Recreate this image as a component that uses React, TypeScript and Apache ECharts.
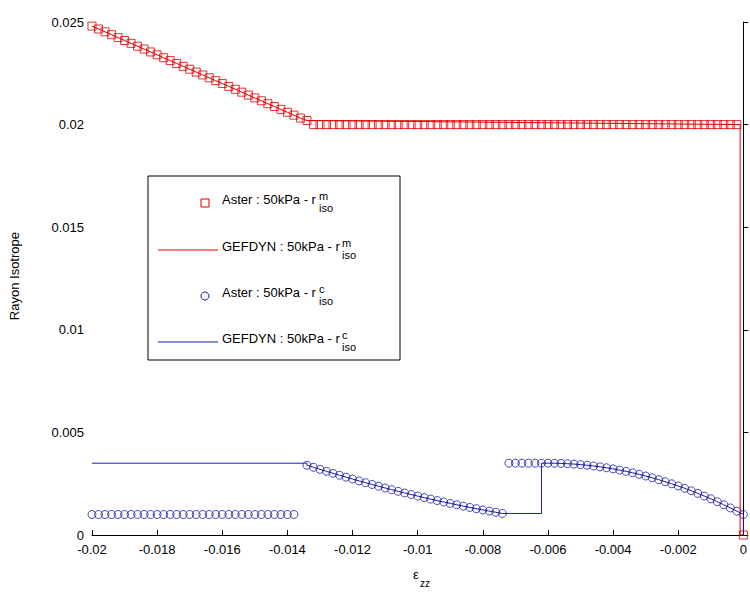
import { useEffect, useRef } from 'react';
import * as echarts from 'echarts';

// Aster r_iso^m (red squares)
const redSlopeX = [-0.02, -0.0198, -0.0196, -0.0194, -0.0192, -0.019, -0.0188, -0.0186, -0.0184, -0.0182, -0.018, -0.0178, -0.0176, -0.0174, -0.0172, -0.017, -0.0168, -0.0166, -0.0164, -0.0162, -0.016, -0.0158, -0.0156, -0.0154, -0.0152, -0.015, -0.0148, -0.0146, -0.0144, -0.0142, -0.014, -0.0138, -0.0136, -0.0134];
const redSlopeY = [0.0248, 0.02466, 0.02452, 0.02438, 0.02424, 0.0241, 0.02396, 0.02382, 0.02368, 0.02354, 0.0234, 0.02326, 0.02312, 0.02298, 0.02284, 0.0227, 0.02256, 0.02242, 0.02228, 0.02214, 0.022, 0.02186, 0.02172, 0.02158, 0.02144, 0.0213, 0.02116, 0.02102, 0.02088, 0.02074, 0.0206, 0.02046, 0.02032, 0.0202];
const redFlatX = [-0.0132, -0.013, -0.0128, -0.0126, -0.0124, -0.0122, -0.012, -0.0118, -0.0116, -0.0114, -0.0112, -0.011, -0.0108, -0.0106, -0.0104, -0.0102, -0.01, -0.0098, -0.0096, -0.0094, -0.0092, -0.009, -0.0088, -0.0086, -0.0084, -0.0082, -0.008, -0.0078, -0.0076, -0.0074, -0.0072, -0.007, -0.0068, -0.0066, -0.0064, -0.0062, -0.006, -0.0058, -0.0056, -0.0054, -0.0052, -0.005, -0.0048, -0.0046, -0.0044, -0.0042, -0.004, -0.0038, -0.0036, -0.0034, -0.0032, -0.003, -0.0028, -0.0026, -0.0024, -0.0022, -0.002, -0.0018, -0.0016, -0.0014, -0.0012, -0.001, -0.0008, -0.0006, -0.0004, -0.0002];
const redFlatValue = 0.02;
const redEnd: [number, number] = [0, 0];

// Aster r_iso^c (blue circles)
const blueFlatX = [-0.02, -0.0198, -0.0196, -0.0194, -0.0192, -0.019, -0.0188, -0.0186, -0.0184, -0.0182, -0.018, -0.0178, -0.0176, -0.0174, -0.0172, -0.017, -0.0168, -0.0166, -0.0164, -0.0162, -0.016, -0.0158, -0.0156, -0.0154, -0.0152, -0.015, -0.0148, -0.0146, -0.0144, -0.0142, -0.014, -0.0138];
const blueFlatValue = 0.001;
const blueDescX = [-0.0134, -0.0132, -0.013, -0.0128, -0.0126, -0.0124, -0.0122, -0.012, -0.0118, -0.0116, -0.0114, -0.0112, -0.011, -0.0108, -0.0106, -0.0104, -0.0102, -0.01, -0.0098, -0.0096, -0.0094, -0.0092, -0.009, -0.0088, -0.0086, -0.0084, -0.0082, -0.008, -0.0078, -0.0076, -0.0074];
const blueDescY = [0.0034, 0.003299, 0.0032, 0.003102, 0.003006, 0.002911, 0.002818, 0.002727, 0.002637, 0.002548, 0.002461, 0.002376, 0.002292, 0.00221, 0.002129, 0.00205, 0.001972, 0.001896, 0.001822, 0.001749, 0.001678, 0.001608, 0.00154, 0.001473, 0.001408, 0.001344, 0.001282, 0.001222, 0.001163, 0.001106, 0.00105];
const bluePlateauX = [-0.0072, -0.007, -0.0068, -0.0066, -0.0064, -0.0062];
const bluePlateauValue = 0.0035;
const blueArcX = [-0.006, -0.0058, -0.0056, -0.0054, -0.0052, -0.005, -0.0048, -0.0046, -0.0044, -0.0042, -0.004, -0.0038, -0.0036, -0.0034, -0.0032, -0.003, -0.0028, -0.0026, -0.0024, -0.0022, -0.002, -0.0018, -0.0016, -0.0014, -0.0012, -0.001, -0.0008, -0.0006, -0.0004, -0.0002, 0];
const blueArcY = [0.0035, 0.003497, 0.003489, 0.003475, 0.003456, 0.003431, 0.0034, 0.003364, 0.003322, 0.003275, 0.003222, 0.003164, 0.0031, 0.00303, 0.002955, 0.002875, 0.002788, 0.002697, 0.002599, 0.002496, 0.002388, 0.002274, 0.002155, 0.002029, 0.001899, 0.001763, 0.001621, 0.001473, 0.00132, 0.001162, 0.001];

// GEFDYN lines, key points
const redDropX = -0.0001;
const blueStartValue = 0.0035;
const blueJumpX = -0.0062;

const RED = '#e00000';
const BLUE = '#1c1ca8';
const FONT = '"Liberation Sans", Arial, sans-serif';

const zip = (xs: number[], ys: number[]) => xs.map((x, i) => [x, ys[i]]);

export default function App() {
    const chartRef = useRef<HTMLDivElement>(null);

    useEffect(() => {
        if (!chartRef.current) return;
        const chart = echarts.init(chartRef.current, null, { renderer: 'svg' });

        const redSquares = [
            ...zip(redSlopeX, redSlopeY),
            ...redFlatX.map(x => [x, redFlatValue]),
            redEnd,
        ];
        const redLine = [
            ...zip(redSlopeX, redSlopeY),
            [redDropX, redFlatValue],
            [redDropX, 0],
            [0, 0],
        ];
        const blueCircles = [
            ...blueFlatX.map(x => [x, blueFlatValue]),
            ...zip(blueDescX, blueDescY),
            ...bluePlateauX.map(x => [x, bluePlateauValue]),
            ...zip(blueArcX, blueArcY),
        ];
        const blueLine = [
            [-0.02, blueStartValue],
            [blueDescX[0], blueStartValue],
            ...zip(blueDescX, blueDescY),
            [blueJumpX, blueDescY[blueDescY.length - 1]],
            [blueJumpX, bluePlateauValue],
            ...zip(blueArcX, blueArcY),
            [0, 0],
        ];

        const fmt = (v: number) => (Math.abs(v) < 1e-12 ? '0' : String(parseFloat(v.toFixed(4))));

        const legendRow = (y: number, name: string, sup: string, width: number, marker: any) => [
            marker,
            { type: 'text', left: 222, top: y - 10, style: { text: name + ' : 50kPa - r', font: `13px ${FONT}`, fill: '#000' } },
            { type: 'text', left: 223 + width, top: y - 13, style: { text: sup, font: `11px ${FONT}`, fill: '#000' } },
            { type: 'text', left: 223 + width, top: y - 1, style: { text: 'iso', font: `11px ${FONT}`, fill: '#000' } },
        ];

        const axisCommon = {
            axisLine: { show: true, lineStyle: { color: '#000', width: 1 } },
            axisTick: { show: true, inside: true, length: 5, lineStyle: { color: '#000' } },
            splitLine: { show: false },
            axisLabel: { color: '#000', fontSize: 13, fontFamily: FONT, formatter: fmt, margin: 8 },
        };

        chart.setOption({
            animation: false,
            grid: { left: 92, right: 2, top: 22, bottom: 62 },
            xAxis: { type: 'value', min: -0.02, max: 0, interval: 0.002, ...axisCommon },
            yAxis: { type: 'value', min: 0, max: 0.025, interval: 0.005, ...axisCommon },
            series: [
                { name: 'GEFDYN m', type: 'line', data: redLine, showSymbol: false, lineStyle: { color: RED, width: 1 } },
                { name: 'GEFDYN c', type: 'line', data: blueLine, showSymbol: false, lineStyle: { color: BLUE, width: 1 } },
                {
                    name: 'Aster m', type: 'scatter', data: redSquares, symbol: 'rect', symbolSize: 8,
                    itemStyle: { color: 'none', borderColor: RED, borderWidth: 1 },
                },
                {
                    name: 'Aster c', type: 'scatter', data: blueCircles, symbol: 'circle', symbolSize: 8,
                    itemStyle: { color: 'none', borderColor: BLUE, borderWidth: 1 },
                },
            ],
            graphic: [
                { type: 'rect', shape: { x: 148, y: 176, width: 252, height: 184 }, style: { fill: '#fff', stroke: '#000', lineWidth: 1 } },
                ...legendRow(203, 'Aster', 'm', 96, { type: 'rect', shape: { x: 201, y: 199, width: 8, height: 8 }, style: { fill: 'none', stroke: RED } }),
                ...legendRow(250, 'GEFDYN', 'm', 119, { type: 'line', shape: { x1: 158, y1: 250, x2: 218, y2: 250 }, style: { stroke: RED, lineWidth: 1 } }),
                ...legendRow(296, 'Aster', 'c', 96, { type: 'circle', shape: { cx: 205, cy: 296, r: 4 }, style: { fill: 'none', stroke: BLUE } }),
                ...legendRow(342, 'GEFDYN', 'c', 119, { type: 'line', shape: { x1: 158, y1: 342, x2: 218, y2: 342 }, style: { stroke: BLUE, lineWidth: 1 } }),
                { type: 'text', left: 8, top: 232, rotation: Math.PI / 2, style: { text: 'Rayon Isotrope', font: `13px ${FONT}`, fill: '#000' } },
                { type: 'text', left: 413, top: 568, style: { text: 'ε', font: `13px ${FONT}`, fill: '#000' } },
                { type: 'text', left: 420, top: 578, style: { text: 'zz', font: `10px ${FONT}`, fill: '#000' } },
            ],
        });

        return () => chart.dispose();
    }, []);

    return <div ref={chartRef} style={{ position: 'fixed', left: 0, top: 0, width: 750, height: 597, background: '#fff' }} />;
}
